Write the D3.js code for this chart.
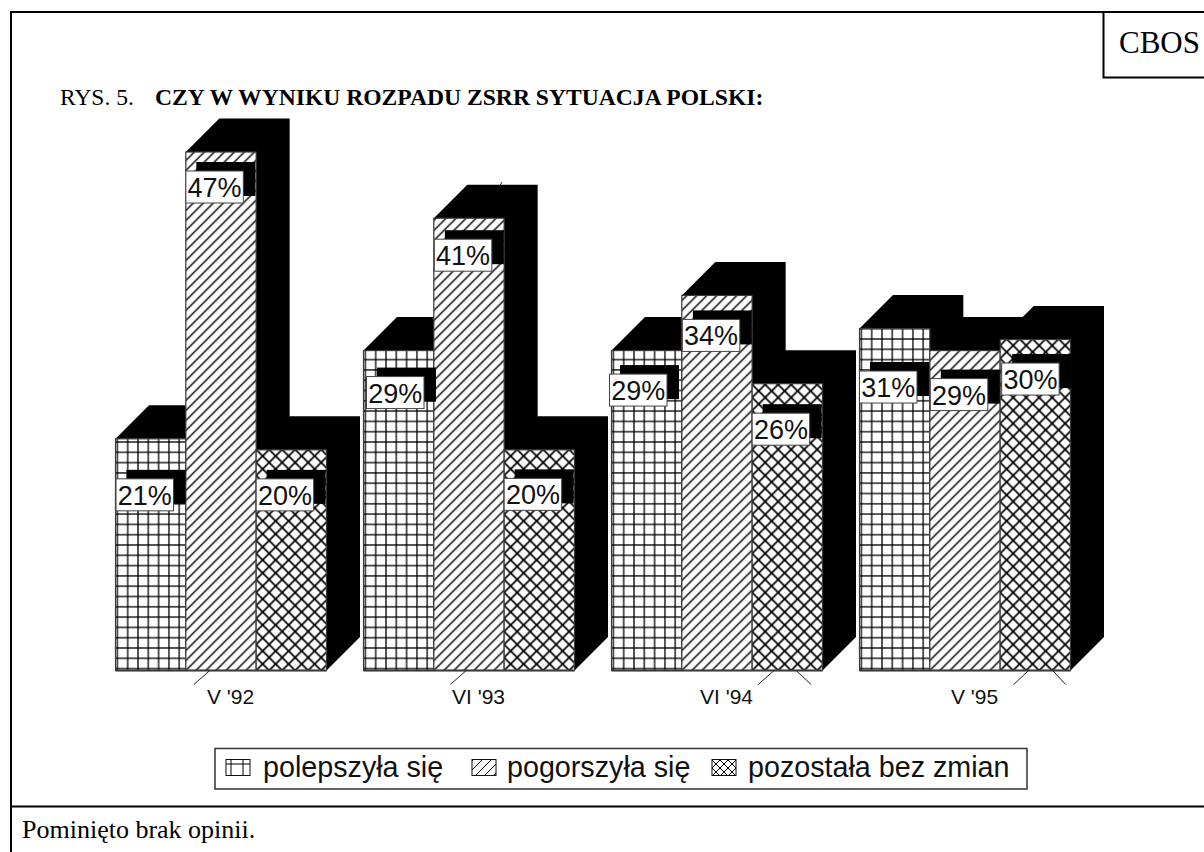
<!DOCTYPE html>
<html><head><meta charset="utf-8">
<script src="https://cdn.jsdelivr.net/npm/d3@7"></script>
<style>html,body{margin:0;padding:0;background:#fff}svg{display:block}</style>
</head><body><svg id="c" width="1204" height="852"></svg>
<script>
const categories = ["V '92", "VI '93", "VI '94", "V '95"];
const seriesNames = ["polepszyła się", "pogorszyła się", "pozostała bez zmian"];
const improved = [21, 29, 29, 31];
const worsened = [47, 41, 34, 29];
const unchanged = [20, 20, 26, 30];
const seriesValues = [improved, worsened, unchanged];

const svg = d3.select("#c");
const serif = "'Liberation Serif','Times New Roman',serif";
const sans = "'Liberation Sans',Arial,sans-serif";
const depth = 33.5, ink = "#000", edge = "#3a3a3a";

const x0 = d3.scaleBand().domain(categories).range([115.5, 1070.5]).paddingInner(37 / 248).paddingOuter(0);
const x1 = d3.scaleBand().domain(d3.range(3)).range([0, x0.bandwidth()]);
const y = d3.scaleLinear().domain([0, 47]).range([670.5, 152]);

// patterns
const defs = svg.append("defs");
function gridPattern(id, s, ox, oy, w) {
  const p = defs.append("pattern").attr("id", id).attr("patternUnits", "userSpaceOnUse").attr("width", s).attr("height", s);
  p.append("rect").attr("width", s).attr("height", s).attr("fill", "#fff");
  p.append("line").attr("x1", ox).attr("x2", ox).attr("y1", 0).attr("y2", s).attr("stroke", ink).attr("stroke-width", w);
  p.append("line").attr("y1", oy).attr("y2", oy).attr("x1", 0).attr("x2", s).attr("stroke", ink).attr("stroke-width", w);
}
function diagPattern(id, s, w, both) {
  const p = defs.append("pattern").attr("id", id).attr("patternUnits", "userSpaceOnUse").attr("width", s).attr("height", s);
  p.append("rect").attr("width", s).attr("height", s).attr("fill", "#fff");
  const segs = [[0, s, s, 0], [-s, s, s, -s], [0, 2 * s, 2 * s, 0]];
  if (both) segs.push([0, 0, s, s], [-s, 0, s, 2 * s], [0, -s, 2 * s, s]);
  segs.forEach(d => p.append("line").attr("x1", d[0]).attr("y1", d[1]).attr("x2", d[2]).attr("y2", d[3]).attr("stroke", ink).attr("stroke-width", w));
}
gridPattern("pGrid", 10.3, 1.9, 8.4, 1.3);
diagPattern("pDiag", 10, 1.4, false);
diagPattern("pCross", 13, 1.7, true);
gridPattern("sGrid", 12, 3, 8, 1);
diagPattern("sDiag", 9, 1, false);
diagPattern("sCross", 8, 1, true);
const fills = ["pGrid", "pDiag", "pCross"];
const swatchFills = ["sGrid", "sDiag", "sCross"];

// page frame
const frame = svg.append("g").attr("stroke", ink).attr("stroke-width", 2).attr("fill", "none");
frame.append("line").attr("x1", 10.5).attr("x2", 1204).attr("y1", 12).attr("y2", 12);
frame.append("line").attr("x1", 11).attr("x2", 11).attr("y1", 11).attr("y2", 852);
frame.append("line").attr("x1", 11).attr("x2", 1204).attr("y1", 806.5).attr("y2", 806.5);
frame.append("path").attr("d", "M1103.5 12V77.5H1204");

svg.append("text").text("CBOS").attr("x", 1119).attr("y", 53).attr("font-family", serif).attr("font-size", 31).attr("fill", ink);
svg.append("text").text("RYS. 5.").attr("x", 60).attr("y", 105).attr("font-family", serif).attr("font-size", 23.5).attr("fill", ink);
svg.append("text").text("CZY W WYNIKU ROZPADU ZSRR SYTUACJA POLSKI:").attr("x", 155).attr("y", 105).attr("font-family", serif).attr("font-weight", "bold").attr("font-size", 23.6).attr("fill", ink);
svg.append("text").text("Pominięto brak opinii.").attr("x", 22).attr("y", 838).attr("font-family", serif).attr("font-size", 26).attr("fill", ink);

// bars
const base = y(0);
categories.forEach((cat, g) => {
  const gx = x0(cat);
  const grp = svg.append("g").attr("class", "group");
  seriesValues.forEach((vals, s) => {
    const v = vals[g], bx = gx + x1(s), bw = x1.bandwidth(), top = y(v);
    grp.append("polygon").attr("fill", ink).attr("points", [
      [bx, top], [bx + depth, top - depth], [bx + bw + depth, top - depth],
      [bx + bw + depth, base - depth], [bx + bw, base], [bx, base]].join(" "));
    const b = grp.append("g").attr("transform", `translate(${bx},${base})`);
    b.append("rect").attr("x", 0).attr("y", top - base).attr("width", bw).attr("height", base - top)
      .attr("fill", `url(#${fills[s]})`).attr("stroke", edge).attr("stroke-width", 1.2);
    b.append("line").attr("x1", 0).attr("x2", bw).attr("y1", 0).attr("y2", 0).attr("stroke", edge).attr("stroke-width", 2);
  });
});

// stray hatch strokes that run past the baseline [group, series, start offset, end offset]
const strays = [[0, 1, 8, 24], [1, 1, 16.5, 32.5], [2, 2, 6, 22], [2, 2, 59, 44], [3, 2, 13.5, 28.5], [3, 2, 65.5, 52.5]];
svg.append("g").selectAll("line").data(strays).join("line")
  .attr("x1", d => x0(categories[d[0]]) + x1(d[1]) + d[2]).attr("y1", base + 14)
  .attr("x2", d => x0(categories[d[0]]) + x1(d[1]) + d[3]).attr("y2", base)
  .attr("stroke", "#222").attr("stroke-width", 1);
svg.append("line").attr("x1", x0(categories[1]) + x1(1) + 68).attr("y1", y(41) - depth - 2.5)
  .attr("x2", x0(categories[1]) + x1(1) + 66).attr("y2", y(41) - depth + 1).attr("stroke", "#222");

// value labels: drop below the bar top, and shift from the bar's left edge
const labelDrop = [[40, 19, 29], [26, 21, 28.5], [23.5, 24, 29.5], [42.5, 28, 23.5]];
const labelShift = [[0.5, 0, 0], [3, 0.5, 0], [-2, 0.5, 0], [0, 0.5, 1.5]];
const labelW = 57.5, labelH = 32;
categories.forEach((cat, g) => {
  seriesValues.forEach((vals, s) => {
    const v = vals[g];
    const lx = x0(cat) + x1(s) + labelShift[g][s], ly = y(v) + labelDrop[g][s];
    svg.append("rect").attr("x", lx + 10.5).attr("y", ly - 9).attr("width", 59).attr("height", 34).attr("fill", ink);
    svg.append("rect").attr("x", lx).attr("y", ly).attr("width", labelW).attr("height", labelH)
      .attr("fill", "#fff").attr("stroke", "#444").attr("stroke-width", 1);
    svg.append("text").text(v + "%").attr("x", lx + labelW / 2).attr("y", ly + 26)
      .attr("text-anchor", "middle").attr("font-family", sans).attr("font-size", 27).attr("fill", "#111");
  });
});

// category axis
const axis = d3.axisBottom(d3.scalePoint().domain(categories).range([x0(categories[0]) + x0.bandwidth() / 2 + 9, x0(categories[3]) + x0.bandwidth() / 2 + 9])).tickSize(0).tickPadding(0);
const ax = svg.append("g").attr("transform", `translate(0,${base})`).call(axis);
ax.select(".domain").remove();
ax.selectAll("text").attr("y", 0).attr("dy", 0).attr("transform", "translate(0,33.5)")
  .attr("font-family", sans).attr("font-size", 21).attr("fill", "#111");

// legend
svg.append("rect").attr("x", 215).attr("y", 748.5).attr("width", 812).attr("height", 40.5)
  .attr("fill", "#fff").attr("stroke", "#333").attr("stroke-width", 1.5);
const swatchX = [226, 472, 712], textX = [263, 507, 748];
seriesNames.forEach((n, i) => {
  svg.append("rect").attr("x", swatchX[i]).attr("y", 759.5).attr("width", 24).attr("height", 16)
    .attr("fill", `url(#${swatchFills[i]})`).attr("stroke", "#111").attr("stroke-width", 1);
  svg.append("text").text(n).attr("x", textX[i]).attr("y", 777).attr("font-family", sans).attr("font-size", 28.7).attr("fill", "#111");
});
</script></body></html>
